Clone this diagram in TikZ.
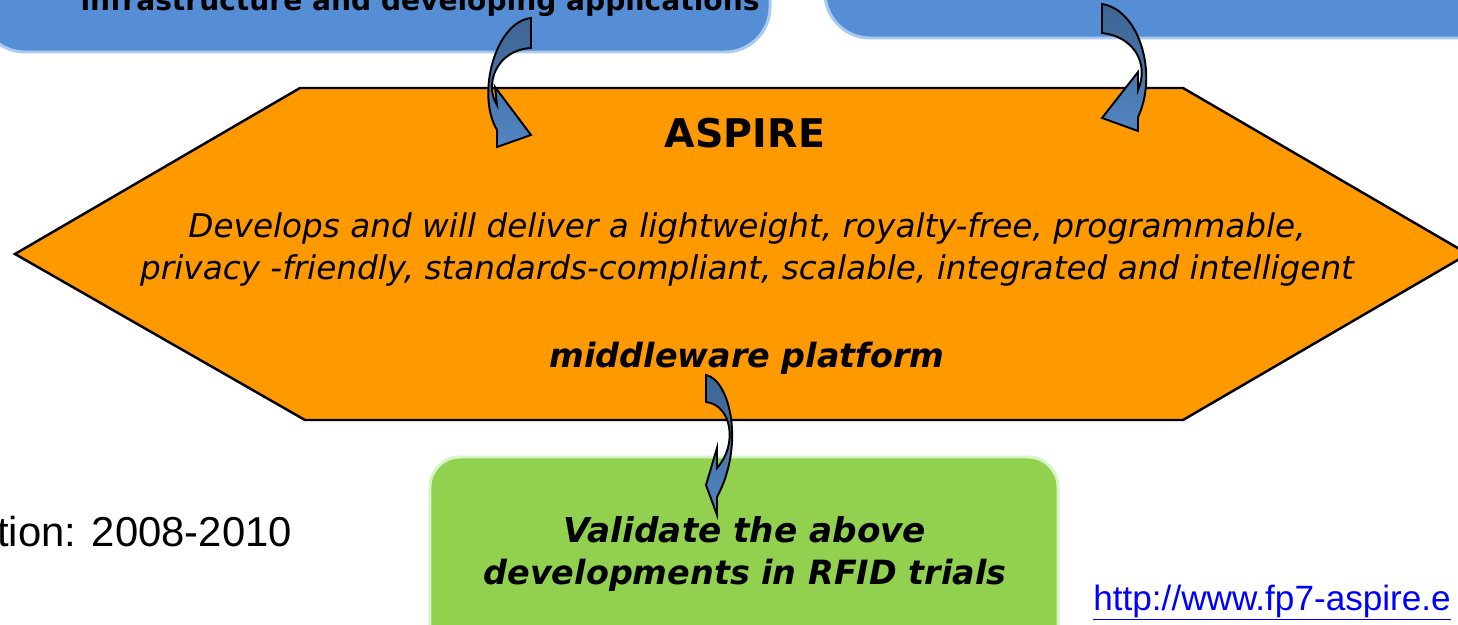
\documentclass[tikz,border=0pt]{standalone}
\usepackage{fontspec}
\setmainfont{DejaVu Sans}
\newfontfamily\arialfont{Liberation Sans}
\definecolor{boxblue}{HTML}{558ED5}
\definecolor{boxblueedge}{HTML}{A9CBEF}
\definecolor{hexorange}{HTML}{FF9900}
\definecolor{boxgreen}{HTML}{92D050}
\definecolor{boxgreenedge}{HTML}{D5F5C5}
\definecolor{arrowtop}{HTML}{3E6491}
\definecolor{arrowbot}{HTML}{5285C2}
\definecolor{linkblue}{HTML}{0000FF}

\begin{document}
\begin{tikzpicture}[x=0.02cm,y=-0.02cm,
	bluebox/.style={fill=boxblue,draw=boxblueedge,line width=1.7pt,rounded corners=0.9cm},
	greenbox/.style={fill=boxgreen,draw=boxgreenedge,line width=1.7pt,rounded corners=0.6cm},
	hexbox/.style={fill=hexorange,draw=black,line width=1.4pt},
	curvearrow/.style={draw=black,line width=1.1pt,top color=arrowtop,bottom color=arrowbot},
	line/.style={anchor=base,inner sep=0pt}]
\useasboundingbox (0,0) rectangle (1458,625);
\clip (0,0) rectangle (1458,625);
% boxes
\draw[bluebox] (-20,-120) rectangle (770,52);
\draw[bluebox] (825,-120) rectangle (1580,38);
\draw[hexbox] (15,254) -- (300,88) -- (1183,88) -- (1468,254) -- (1183,420) -- (305,420) -- cycle;
\draw[greenbox] (430,457) rectangle (1058,700);
% texts
\node[line,font=\bfseries\fontsize{16}{19}\selectfont] (infra) at (420,11) {infrastructure and developing applications};
\node[line,font=\bfseries\fontsize{22.5}{27}\selectfont] (aspire) at (745,148) {ASPIRE};
\node[line,font=\itshape\fontsize{18.6}{22}\selectfont] (devA) at (747,237) {Develops and will deliver a lightweight, royalty-free, programmable,};
\node[line,font=\itshape\fontsize{18.6}{22}\selectfont] (devB) at (747,279) {privacy -friendly, standards-compliant, scalable, integrated and intelligent};
\node[line,font=\bfseries\itshape\fontsize{19}{23}\selectfont] (mware) at (747,367) {middleware platform};
\node[line,font=\bfseries\itshape\fontsize{19.5}{23}\selectfont] (validA) at (745,542) {Validate the above};
\node[line,font=\bfseries\itshape\fontsize{19}{23}\selectfont] (validB) at (745,584) {developments in RFID trials};
\node[line,anchor=base west,font=\arialfont\fontsize{23.8}{28}\selectfont] (dur) at (-3,546) {tion: 2008-2010};
\node[line,anchor=base west,font=\arialfont\fontsize{20}{24}\selectfont,text=linkblue] (url) at (1093,610) {\underline{http://www.fp7-aspire.e}};
% curved arrows
\draw[curvearrow] (531,18) .. controls (495,22) and (476,95) .. (497,130) -- (497,147) -- (531,135) -- (495,87) -- (497,105)
	.. controls (484,85) and (496,50) .. (531,48) -- cycle;
\draw[curvearrow] (1102,4) .. controls (1140,10) and (1158,75) .. (1138,117) -- (1138,131) -- (1102,118) -- (1138,72) -- (1138,90)
	.. controls (1150,62) and (1132,36) .. (1102,33) -- cycle;
\draw[curvearrow] (706,375) .. controls (730,380) and (745,445) .. (717,497) -- (717,515) -- (706,485) -- (717,448) -- (717,468)
	.. controls (738,445) and (732,405) .. (706,402) -- cycle;
\end{tikzpicture}
\end{document}
